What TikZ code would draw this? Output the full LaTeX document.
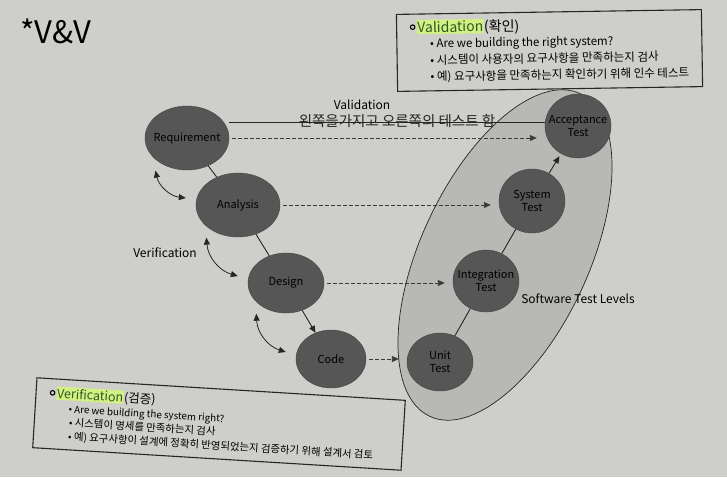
\documentclass[tikz,border=0pt]{standalone}
\usepackage{fontspec}
\setmainfont{Noto Sans CJK KR}
\usetikzlibrary{
  arrows.meta,
  shapes.geometric,
  positioning
}
\definecolor{vvPaper}{HTML}{CECECA}
\definecolor{vvZone}{HTML}{B8B8B5}
\definecolor{vvNode}{HTML}{565656}
\definecolor{vvEdge}{HTML}{444444}
\definecolor{vvDash}{HTML}{3A3A3A}
\definecolor{vvMark}{HTML}{D2F084}
\definecolor{vvGreen}{HTML}{2E5A22}
\tikzset{
  phase/.style={ellipse, draw=vvEdge, fill=vvNode, inner sep=0pt},
  phasetext/.style={align=center, inner sep=0pt, font=\fontsize{11}{12.5}\selectfont},
  link/.style={line width=0.9pt, black!85},
  linkto/.style={link, -{Triangle[length=7pt,width=6pt]}},
  trace/.style={line width=0.9pt, vvDash, dash pattern=on 3.5pt off 2.5pt,
    -{Triangle[length=7pt,width=6pt]}},
  loopback/.style={line width=0.8pt, black!85,
    {Triangle[length=7pt,width=6pt]}-{Triangle[length=7pt,width=6pt]}},
  zone/.style={ellipse, draw=black!85, line width=0.7pt, fill=vvZone, inner sep=0pt},
  tag/.style={font=\fontsize{12}{14}\selectfont, inner sep=0pt},
  infobox/.style={draw=black!85, line width=1.1pt, inner sep=0pt},
  marker/.style={fill=vvMark, text=vvGreen, inner xsep=0.5pt, inner ysep=1.5pt},
  ring/.style={circle, draw=black, line width=1.1pt, inner sep=0pt, minimum size=4.5pt},
  item/.style={anchor=west, inner sep=0pt, text height=0.72em, text depth=0.12em}
}

\begin{document}
\begin{tikzpicture}[x=1pt, y=-1pt]
  \fill[vvPaper] (0,0) rectangle (727,477);
  \useasboundingbox (0,0) rectangle (727,477);

  % handwritten heading
  \node[font=\fontsize{31}{34}\selectfont, inner sep=0pt] (vvnote) at (56,31) {*V\&V};

  % test level zone
  \node[zone, minimum width=356, minimum height=168, rotate=65] (levels) at (505,255) {};
  \node[tag] (levelslbl) at (578,299) {Software Test Levels};

  % left side of the V
  \node[phase, minimum width=84, minimum height=64, label={[phasetext]center:Requirement}] (req) at (187,138) {};
  \node[phase, minimum width=84, minimum height=64, label={[phasetext]center:Analysis}] (ana) at (238,205) {};
  \node[phase, minimum width=76, minimum height=60, label={[phasetext]center:Design}] (des) at (286,283) {};
  \node[phase, minimum width=70, minimum height=58, label={[phasetext]center:Code}] (cod) at (331,359) {};
  % right side of the V
  \node[phase, minimum width=66, minimum height=58, label={[phasetext]center:Unit\\Test}] (unit) at (440,362) {};
  \node[phase, minimum width=66, minimum height=62, label={[phasetext]center:Integration\\Test}] (intg) at (486,281) {};
  \node[phase, minimum width=66, minimum height=64, label={[phasetext]center:System\\Test}] (sys) at (532,201) {};
  \node[phase, minimum width=66, minimum height=64, label={[phasetext]center:Acceptance\\Test}] (acc) at (578,126) {};

  \draw[link] (req) -- (ana);
  \draw[link] (ana) -- (des);
  \draw[linkto] (des) -- (cod);
  \draw[link] (unit) -- (intg);
  \draw[link] (intg) -- (sys);
  \draw[linkto, shorten >=3pt] (sys) -- (acc);

  \foreach \a/\b in {req/acc, ana/sys, des/intg, cod/unit}
    \draw[trace] ([xshift=3pt]\a.east) -- ([xshift=-8pt]\a.east -| \b.west);

  \foreach \a/\b in {req/ana, ana/des, des/cod}
    \draw[loopback] ([shift={(-6,7)}]\a.225) to[bend right=35] ([shift={(-10,-7)}]\b.west);

  \node[tag] (verlbl) at (165,253) {Verification};
  \node[tag] (vallbl) at (362,105) {Validation};

  % pencil note
  \node[font=\fontsize{14.5}{16}\selectfont, inner sep=0pt, text=black!85] (scrawl) at (397,121) {왼쪽을가지고 오른쪽의 테스트 함};
  \draw[link, line width=0.7pt] ([yshift=16pt]req.east) -- ([yshift=16pt]req.east -| acc.west);

  % validation box
  \begin{scope}[rotate around={0.9:(549.5,50.5)}, transform shape]
    \node[infobox, minimum width=305, minimum height=77] (valbox) at (549.5,50.5) {};
    \node[ring] (valring) at (413,25) {};
    \node[marker, anchor=west, font=\fontsize{14}{16}\selectfont] (valword) at (417,25) {Validation};
    \node[inner sep=0pt, font=\fontsize{14}{16}\selectfont, base right=0pt of valword] (valkr) {(확인)};
    \node[item, font=\fontsize{11.5}{13}\selectfont] (val1) at (430,43) {\textbullet\ Are we building the right system?};
    \node[item, font=\fontsize{11.5}{13}\selectfont] (val2) at (430,59.5) {\textbullet\ 시스템이 사용자의 요구사항을 만족하는지 검사};
    \node[item, font=\fontsize{11.5}{13}\selectfont] (val3) at (430,76) {\textbullet\ 예) 요구사항을 만족하는지 확인하기 위해 인수 테스트};
  \end{scope}

  % verification box
  \begin{scope}[rotate around={-3.5:(219,424)}, transform shape]
    \node[infobox, minimum width=369, minimum height=70] (verbox) at (219,424) {};
    \node[ring] (verring) at (51,403) {};
    \node[marker, anchor=west, font=\fontsize{12.5}{14}\selectfont] (verword) at (55,403) {Verification};
    \node[inner sep=0pt, font=\fontsize{12.5}{14}\selectfont, base right=0pt of verword] (verkr) {(검증)};
    \node[item, font=\fontsize{9.8}{11}\selectfont] (ver1) at (68,419) {\textbullet\ Are we building the system right?};
    \node[item, font=\fontsize{10.4}{11}\selectfont] (ver2) at (69,432.5) {\textbullet\ 시스템이 명세를 만족하는지 검사};
    \node[item, font=\fontsize{10.4}{11}\selectfont] (ver3) at (69,446.5) {\textbullet\ 예) 요구사항이 설계에 정확히 반영되었는지 검증하기 위해 설계서 검토};
  \end{scope}
\end{tikzpicture}
\end{document}
